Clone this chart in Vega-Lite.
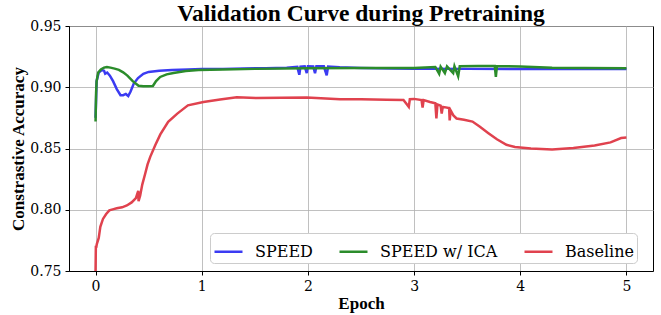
{
  "$schema": "https://vega.github.io/schema/vega-lite/v6.json",
  "width": 584,
  "height": 245,
  "autosize": "none",
  "padding": {"left": 69, "top": 26, "right": 8, "bottom": 44},
  "background": "white",
  "title": {"text": "Validation Curve during Pretraining", "font": "Liberation Serif", "fontSize": 23.5, "fontWeight": "bold", "color": "black", "anchor": "middle", "offset": -6},
  "config": {
    "view": {"stroke": "black", "strokeWidth": 1},
    "axis": {"domainColor": "black", "tickColor": "black", "tickSize": 4, "gridColor": "#b0b0b0", "gridWidth": 0.8, "labelFont": "DejaVu Serif", "labelFontSize": 14, "labelColor": "black", "titleFont": "Liberation Serif", "titleFontSize": 17, "titleFontWeight": "bold", "titleColor": "black"}
  },
  "data": {"values": [
    {"epoch": 0, "acc": 0.875, "model": "SPEED"},
    {"epoch": 0.01, "acc": 0.905, "model": "SPEED"},
    {"epoch": 0.03, "acc": 0.912, "model": "SPEED"},
    {"epoch": 0.06, "acc": 0.914, "model": "SPEED"},
    {"epoch": 0.08, "acc": 0.9135, "model": "SPEED"},
    {"epoch": 0.091, "acc": 0.911, "model": "SPEED"},
    {"epoch": 0.11, "acc": 0.912, "model": "SPEED"},
    {"epoch": 0.135, "acc": 0.9095, "model": "SPEED"},
    {"epoch": 0.165, "acc": 0.905, "model": "SPEED"},
    {"epoch": 0.2, "acc": 0.8985, "model": "SPEED"},
    {"epoch": 0.235, "acc": 0.8935, "model": "SPEED"},
    {"epoch": 0.26, "acc": 0.8935, "model": "SPEED"},
    {"epoch": 0.285, "acc": 0.8945, "model": "SPEED"},
    {"epoch": 0.308, "acc": 0.8928, "model": "SPEED"},
    {"epoch": 0.33, "acc": 0.8965, "model": "SPEED"},
    {"epoch": 0.36, "acc": 0.903, "model": "SPEED"},
    {"epoch": 0.4, "acc": 0.9075, "model": "SPEED"},
    {"epoch": 0.45, "acc": 0.911, "model": "SPEED"},
    {"epoch": 0.5, "acc": 0.9125, "model": "SPEED"},
    {"epoch": 0.6, "acc": 0.9135, "model": "SPEED"},
    {"epoch": 0.72, "acc": 0.914, "model": "SPEED"},
    {"epoch": 0.87, "acc": 0.9145, "model": "SPEED"},
    {"epoch": 1.0, "acc": 0.9148, "model": "SPEED"},
    {"epoch": 1.2, "acc": 0.915, "model": "SPEED"},
    {"epoch": 1.4, "acc": 0.9153, "model": "SPEED"},
    {"epoch": 1.6, "acc": 0.9156, "model": "SPEED"},
    {"epoch": 1.8, "acc": 0.916, "model": "SPEED"},
    {"epoch": 1.9, "acc": 0.9166, "model": "SPEED"},
    {"epoch": 1.919, "acc": 0.9102, "model": "SPEED"},
    {"epoch": 1.93, "acc": 0.9168, "model": "SPEED"},
    {"epoch": 1.97, "acc": 0.917, "model": "SPEED"},
    {"epoch": 1.989, "acc": 0.9115, "model": "SPEED"},
    {"epoch": 2.0, "acc": 0.9172, "model": "SPEED"},
    {"epoch": 2.05, "acc": 0.917, "model": "SPEED"},
    {"epoch": 2.067, "acc": 0.9115, "model": "SPEED"},
    {"epoch": 2.08, "acc": 0.9172, "model": "SPEED"},
    {"epoch": 2.15, "acc": 0.9171, "model": "SPEED"},
    {"epoch": 2.177, "acc": 0.9098, "model": "SPEED"},
    {"epoch": 2.19, "acc": 0.9168, "model": "SPEED"},
    {"epoch": 2.3, "acc": 0.9163, "model": "SPEED"},
    {"epoch": 2.5, "acc": 0.9158, "model": "SPEED"},
    {"epoch": 2.8, "acc": 0.9154, "model": "SPEED"},
    {"epoch": 3.0, "acc": 0.9152, "model": "SPEED"},
    {"epoch": 3.5, "acc": 0.915, "model": "SPEED"},
    {"epoch": 4.0, "acc": 0.9149, "model": "SPEED"},
    {"epoch": 4.5, "acc": 0.9148, "model": "SPEED"},
    {"epoch": 5.0, "acc": 0.9148, "model": "SPEED"},

    {"epoch": 0, "acc": 0.872, "model": "SPEED w/ ICA"},
    {"epoch": 0.005, "acc": 0.895, "model": "SPEED w/ ICA"},
    {"epoch": 0.01, "acc": 0.905, "model": "SPEED w/ ICA"},
    {"epoch": 0.025, "acc": 0.912, "model": "SPEED w/ ICA"},
    {"epoch": 0.05, "acc": 0.9145, "model": "SPEED w/ ICA"},
    {"epoch": 0.08, "acc": 0.916, "model": "SPEED w/ ICA"},
    {"epoch": 0.107, "acc": 0.9166, "model": "SPEED w/ ICA"},
    {"epoch": 0.14, "acc": 0.916, "model": "SPEED w/ ICA"},
    {"epoch": 0.18, "acc": 0.9152, "model": "SPEED w/ ICA"},
    {"epoch": 0.22, "acc": 0.9142, "model": "SPEED w/ ICA"},
    {"epoch": 0.26, "acc": 0.9122, "model": "SPEED w/ ICA"},
    {"epoch": 0.3, "acc": 0.9095, "model": "SPEED w/ ICA"},
    {"epoch": 0.35, "acc": 0.905, "model": "SPEED w/ ICA"},
    {"epoch": 0.405, "acc": 0.9012, "model": "SPEED w/ ICA"},
    {"epoch": 0.45, "acc": 0.9008, "model": "SPEED w/ ICA"},
    {"epoch": 0.5, "acc": 0.9008, "model": "SPEED w/ ICA"},
    {"epoch": 0.54, "acc": 0.901, "model": "SPEED w/ ICA"},
    {"epoch": 0.57, "acc": 0.905, "model": "SPEED w/ ICA"},
    {"epoch": 0.609, "acc": 0.9084, "model": "SPEED w/ ICA"},
    {"epoch": 0.67, "acc": 0.9105, "model": "SPEED w/ ICA"},
    {"epoch": 0.734, "acc": 0.9117, "model": "SPEED w/ ICA"},
    {"epoch": 0.85, "acc": 0.9132, "model": "SPEED w/ ICA"},
    {"epoch": 0.97, "acc": 0.914, "model": "SPEED w/ ICA"},
    {"epoch": 1.2, "acc": 0.9145, "model": "SPEED w/ ICA"},
    {"epoch": 1.5, "acc": 0.915, "model": "SPEED w/ ICA"},
    {"epoch": 2.0, "acc": 0.9155, "model": "SPEED w/ ICA"},
    {"epoch": 2.5, "acc": 0.9157, "model": "SPEED w/ ICA"},
    {"epoch": 3.0, "acc": 0.9158, "model": "SPEED w/ ICA"},
    {"epoch": 3.2, "acc": 0.9166, "model": "SPEED w/ ICA"},
    {"epoch": 3.236, "acc": 0.911, "model": "SPEED w/ ICA"},
    {"epoch": 3.25, "acc": 0.9168, "model": "SPEED w/ ICA"},
    {"epoch": 3.29, "acc": 0.9115, "model": "SPEED w/ ICA"},
    {"epoch": 3.31, "acc": 0.917, "model": "SPEED w/ ICA"},
    {"epoch": 3.368, "acc": 0.9115, "model": "SPEED w/ ICA"},
    {"epoch": 3.38, "acc": 0.9172, "model": "SPEED w/ ICA"},
    {"epoch": 3.415, "acc": 0.909, "model": "SPEED w/ ICA"},
    {"epoch": 3.43, "acc": 0.9172, "model": "SPEED w/ ICA"},
    {"epoch": 3.6, "acc": 0.9174, "model": "SPEED w/ ICA"},
    {"epoch": 3.76, "acc": 0.9173, "model": "SPEED w/ ICA"},
    {"epoch": 3.77, "acc": 0.9084, "model": "SPEED w/ ICA"},
    {"epoch": 3.78, "acc": 0.9172, "model": "SPEED w/ ICA"},
    {"epoch": 4.0, "acc": 0.917, "model": "SPEED w/ ICA"},
    {"epoch": 4.3, "acc": 0.916, "model": "SPEED w/ ICA"},
    {"epoch": 4.6, "acc": 0.9157, "model": "SPEED w/ ICA"},
    {"epoch": 5.0, "acc": 0.9155, "model": "SPEED w/ ICA"},

    {"epoch": 0, "acc": 0.75, "model": "Baseline"},
    {"epoch": 0.003, "acc": 0.7705, "model": "Baseline"},
    {"epoch": 0.006, "acc": 0.769, "model": "Baseline"},
    {"epoch": 0.012, "acc": 0.772, "model": "Baseline"},
    {"epoch": 0.03, "acc": 0.777, "model": "Baseline"},
    {"epoch": 0.045, "acc": 0.786, "model": "Baseline"},
    {"epoch": 0.07, "acc": 0.7925, "model": "Baseline"},
    {"epoch": 0.1, "acc": 0.7965, "model": "Baseline"},
    {"epoch": 0.13, "acc": 0.7995, "model": "Baseline"},
    {"epoch": 0.17, "acc": 0.8005, "model": "Baseline"},
    {"epoch": 0.2, "acc": 0.8012, "model": "Baseline"},
    {"epoch": 0.25, "acc": 0.802, "model": "Baseline"},
    {"epoch": 0.295, "acc": 0.8035, "model": "Baseline"},
    {"epoch": 0.34, "acc": 0.806, "model": "Baseline"},
    {"epoch": 0.38, "acc": 0.8095, "model": "Baseline"},
    {"epoch": 0.402, "acc": 0.8155, "model": "Baseline"},
    {"epoch": 0.405, "acc": 0.807, "model": "Baseline"},
    {"epoch": 0.42, "acc": 0.8115, "model": "Baseline"},
    {"epoch": 0.44, "acc": 0.8205, "model": "Baseline"},
    {"epoch": 0.468, "acc": 0.8296, "model": "Baseline"},
    {"epoch": 0.49, "acc": 0.837, "model": "Baseline"},
    {"epoch": 0.515, "acc": 0.8432, "model": "Baseline"},
    {"epoch": 0.562, "acc": 0.8527, "model": "Baseline"},
    {"epoch": 0.61, "acc": 0.8615, "model": "Baseline"},
    {"epoch": 0.684, "acc": 0.8717, "model": "Baseline"},
    {"epoch": 0.77, "acc": 0.8785, "model": "Baseline"},
    {"epoch": 0.87, "acc": 0.8852, "model": "Baseline"},
    {"epoch": 1.016, "acc": 0.888, "model": "Baseline"},
    {"epoch": 1.173, "acc": 0.89, "model": "Baseline"},
    {"epoch": 1.33, "acc": 0.8919, "model": "Baseline"},
    {"epoch": 1.518, "acc": 0.8912, "model": "Baseline"},
    {"epoch": 1.75, "acc": 0.8914, "model": "Baseline"},
    {"epoch": 1.989, "acc": 0.8916, "model": "Baseline"},
    {"epoch": 2.302, "acc": 0.8903, "model": "Baseline"},
    {"epoch": 2.5, "acc": 0.8902, "model": "Baseline"},
    {"epoch": 2.741, "acc": 0.8897, "model": "Baseline"},
    {"epoch": 2.9, "acc": 0.8896, "model": "Baseline"},
    {"epoch": 2.95, "acc": 0.884, "model": "Baseline"},
    {"epoch": 2.96, "acc": 0.8902, "model": "Baseline"},
    {"epoch": 3.0, "acc": 0.8905, "model": "Baseline"},
    {"epoch": 3.07, "acc": 0.8895, "model": "Baseline"},
    {"epoch": 3.08, "acc": 0.8835, "model": "Baseline"},
    {"epoch": 3.09, "acc": 0.8895, "model": "Baseline"},
    {"epoch": 3.15, "acc": 0.888, "model": "Baseline"},
    {"epoch": 3.2, "acc": 0.887, "model": "Baseline"},
    {"epoch": 3.21, "acc": 0.8745, "model": "Baseline"},
    {"epoch": 3.22, "acc": 0.886, "model": "Baseline"},
    {"epoch": 3.25, "acc": 0.885, "model": "Baseline"},
    {"epoch": 3.26, "acc": 0.8786, "model": "Baseline"},
    {"epoch": 3.27, "acc": 0.884, "model": "Baseline"},
    {"epoch": 3.33, "acc": 0.883, "model": "Baseline"},
    {"epoch": 3.335, "acc": 0.873, "model": "Baseline"},
    {"epoch": 3.345, "acc": 0.881, "model": "Baseline"},
    {"epoch": 3.37, "acc": 0.877, "model": "Baseline"},
    {"epoch": 3.4, "acc": 0.8745, "model": "Baseline"},
    {"epoch": 3.47, "acc": 0.8735, "model": "Baseline"},
    {"epoch": 3.55, "acc": 0.872, "model": "Baseline"},
    {"epoch": 3.62, "acc": 0.8677, "model": "Baseline"},
    {"epoch": 3.7, "acc": 0.8625, "model": "Baseline"},
    {"epoch": 3.78, "acc": 0.8575, "model": "Baseline"},
    {"epoch": 3.87, "acc": 0.853, "model": "Baseline"},
    {"epoch": 3.95, "acc": 0.8512, "model": "Baseline"},
    {"epoch": 4.1, "acc": 0.85, "model": "Baseline"},
    {"epoch": 4.3, "acc": 0.8492, "model": "Baseline"},
    {"epoch": 4.5, "acc": 0.8505, "model": "Baseline"},
    {"epoch": 4.7, "acc": 0.8525, "model": "Baseline"},
    {"epoch": 4.85, "acc": 0.855, "model": "Baseline"},
    {"epoch": 4.95, "acc": 0.8585, "model": "Baseline"},
    {"epoch": 5.0, "acc": 0.859, "model": "Baseline"}
  ]},
  "mark": {"type": "line", "strokeWidth": 2.5, "clip": true},
  "encoding": {
    "x": {"field": "epoch", "type": "quantitative", "title": "Epoch",
      "scale": {"domain": [-0.25, 5.25], "nice": false, "zero": false},
      "axis": {"values": [0, 1, 2, 3, 4, 5], "format": "d", "labelPadding": 4, "titlePadding": 2}},
    "y": {"field": "acc", "type": "quantitative", "title": "Constrastive Accuracy",
      "scale": {"domain": [0.75, 0.95], "nice": false, "zero": false},
      "axis": {"values": [0.75, 0.8, 0.85, 0.9, 0.95], "format": ".2f", "labelPadding": 4, "titlePadding": 2}},
    "color": {"field": "model", "type": "nominal",
      "scale": {"domain": ["SPEED", "SPEED w/ ICA", "Baseline"], "range": ["#3b3bf2", "#2b8c2b", "#e0424e"]},
      "legend": {"title": null, "orient": "none", "legendX": 141, "legendY": 207, "direction": "horizontal",
        "symbolType": "stroke", "symbolSize": 784, "symbolStrokeWidth": 2.5,
        "labelFont": "DejaVu Serif", "labelFontSize": 16, "labelColor": "black", "labelOffset": 11,
        "columnPadding": 21, "padding": 3, "fillColor": "white", "strokeColor": "#cccccc", "cornerRadius": 4}}
  }
}
